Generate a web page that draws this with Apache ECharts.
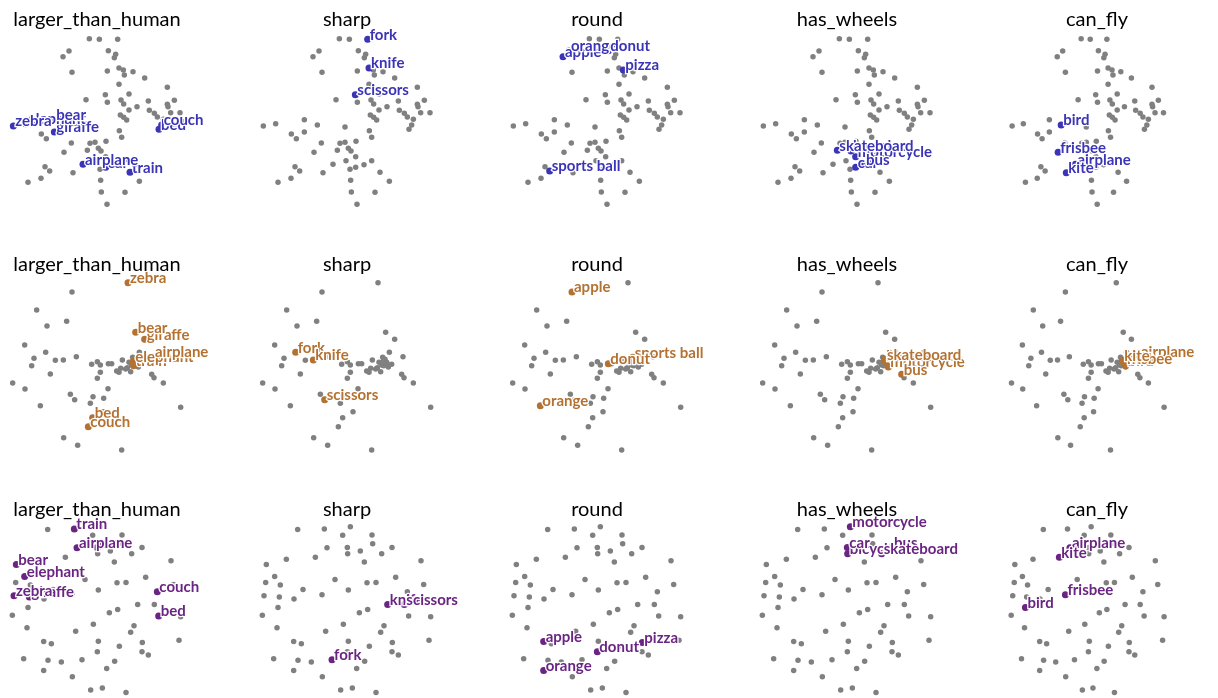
<!DOCTYPE html>
<html><head><meta charset="utf-8">
<script src="https://cdn.jsdelivr.net/npm/echarts@6/dist/echarts.min.js"></script>
<style>html,body{margin:0;padding:0;background:#fff}#c{width:1218px;height:698px}</style>
</head><body><div id="c"></div>
<script>
// panel titles (columns)
const panelTitles = ['larger_than_human', 'sharp', 'round', 'has_wheels', 'can_fly'];
// highlighted categories per column (drawing order of labels)
const largerThanHuman = ['car', 'train', 'giraffe', 'elephant', 'bear', 'zebra', 'airplane', 'bed', 'couch'];
const sharp = ['fork', 'knife', 'scissors'];
const round = ['sports ball', 'apple', 'orange', 'pizza', 'donut'];
const hasWheels = ['bicycle', 'car', 'motorcycle', 'bus', 'skateboard'];
const canFly = ['airplane', 'bird', 'frisbee', 'kite'];

// embedding 1 (top row): [x, y, name]
const row1 = [
[283,116,''],[313,118,''],[368,118,'fork'],
[222,153,'orange'],[204,170,'apple'],[340,152,'donut'],[362,163,''],[358,173,''],
[372,204,'knife'],[231,217,''],[337,213,''],[385,210,'pizza'],[388,225,''],[414,215,''],[449,234,''],
[372,253,''],[517,262,''],
[331,284,'scissors'],[402,282,''],[273,299,''],[337,307,''],[378,300,''],[386,312,''],[402,330,''],[426,320,''],[460,303,''],[463,331,''],[517,313,''],[519,320,''],[538,301,''],[478,340,''],[487,351,''],[527,338,''],[555,338,''],
[376,345,''],[386,352,''],[395,360,''],[505,358,''],[500,375,'couch'],[492,388,'bed'],
[55,378,'zebra'],[92,371,'elephant'],[178,359,'bear'],[217,375,'bird'],[139,402,''],[154,416,''],[178,396,'giraffe'],
[300,381,''],[373,392,''],[380,412,''],
[229,429,''],[285,430,''],[300,427,''],[333,424,''],[310,445,''],[318,453,'bicycle'],[332,470,'motorcycle'],
[207,457,'frisbee'],[277,451,'skateboard'],[303,482,''],[264,493,'airplane'],[357,494,'bus'],[380,482,''],[315,508,''],[332,502,'car'],
[150,500,''],[164,513,'sports ball'],[234,518,'kite'],[405,517,'train'],[138,535,''],[99,547,''],[317,541,''],[433,544,''],[319,576,''],[390,577,''],[336,613,'']
];
// embedding 2 (middle row)
const row2 = [
[399,113,'zebra'],[231,141,'apple'],[125,195,''],[215,229,''],[156,243,''],[422,262,'bear'],[449,283,'giraffe'],[89,300,''],
[152,322,'fork'],[205,345,'knife'],[244,335,''],[117,340,''],[181,346,''],[110,362,''],[166,387,''],[53,414,''],[90,432,''],
[290,358,''],[307,350,''],[316,360,''],[340,356,'donut'],[350,356,''],[382,345,''],[316,382,''],[307,400,''],
[413,337,'sports ball'],[420,343,'skateboard'],[415,349,'elephant'],[416,362,'train'],[430,366,'motorcycle'],[425,352,'car'],[418,346,'bicycle'],[419,348,'kite'],[426,356,'frisbee'],[430,362,'bird'],
[433,322,''],[402,352,''],[392,372,''],[377,370,''],[365,378,''],[372,382,''],[397,368,''],[407,380,''],[440,358,''],[410,360,''],
[474,335,'airplane'],[470,388,'bus'],[477,398,''],[505,414,''],[339,431,''],[226,448,''],[239,464,'scissors'],[294,455,''],[326,460,''],[286,475,''],[324,500,''],[293,518,'bed'],[280,545,'couch'],[136,482,'orange'],[557,487,''],[206,578,''],[248,601,''],[380,615,'']
];
// embedding 3 (bottom row)
const row3 = [
[158,120,''],[238,118,'train'],[316,111,'motorcycle'],[293,137,''],[381,136,''],[246,175,'airplane'],[307,174,'car'],[383,163,''],[346,185,''],[308,193,'bicycle'],[410,193,'skateboard'],[441,174,'bus'],
[211,204,'kite'],[124,210,''],[358,218,''],[528,214,''],[64,226,'bear'],[89,262,'elephant'],[62,280,''],[106,288,''],[270,271,''],[366,281,''],[393,280,''],[452,264,''],[536,286,''],
[174,301,''],[310,303,''],[487,308,'couch'],[57,320,'zebra'],[103,324,'giraffe'],[147,330,''],[231,317,'frisbee'],[99,356,'bird'],[52,379,''],[343,372,''],[368,362,''],
[428,347,'knife'],[478,347,'scissors'],[491,382,'bed'],[557,384,''],[96,417,''],[295,407,''],[417,411,''],[407,431,''],[242,428,''],
[146,459,'apple'],[169,466,''],[310,458,''],[373,473,''],[442,462,'pizza'],[552,455,''],[441,490,''],[460,500,''],[307,490,'donut'],
[86,511,''],[159,516,''],[199,521,''],[261,514,'fork'],[359,519,''],[335,541,''],[146,547,'orange'],[232,566,''],[287,606,''],[322,600,''],[393,613,'']
];

const rowColors = ['#3b34b6', '#b47232', '#6a2583'];
const grayColor = '#808080';

const groups = [largerThanHuman, sharp, round, hasWheels, canFly];
const rows = [row1, row2, row3];
const grid = [], xAxis = [], yAxis = [], series = [], title = [];
rows.forEach((pts, r) => {
  groups.forEach((g, c) => {
    const i = grid.length;
    grid.push({left: 250 * c, top: 245 * r, width: 240, height: 210});
    xAxis.push({gridIndex: i, type: 'value', min: 15, max: 735, show: false});
    yAxis.push({gridIndex: i, type: 'value', min: 0, max: 630, inverse: true, show: false});
    title.push({text: panelTitles[c], left: 97 + 250 * c, top: 245 * r + 10, textAlign: 'center', padding: 0,
      textStyle: {fontFamily: 'Lato', fontSize: 20, fontWeight: 'normal', color: '#000'}});
    const gray = pts.filter(p => !g.includes(p[2])).map(p => [p[0], p[1]]);
    const hi = g.map(n => pts.find(p => p[2] === n)).filter(Boolean).map(p => ({value: [p[0], p[1]], name: p[2]}));
    series.push({type: 'scatter', xAxisIndex: i, yAxisIndex: i, data: gray, symbolSize: 5.5, clip: false, silent: true,
      itemStyle: {color: grayColor, opacity: 1}});
    series.push({type: 'scatter', xAxisIndex: i, yAxisIndex: i, data: hi, symbolSize: 7, clip: false, silent: true,
      itemStyle: {color: rowColors[r], opacity: 1},
      label: {show: true, formatter: '{b}', position: [5.5, 6.5], align: 'left', verticalAlign: 'bottom',
        fontFamily: 'Lato', fontWeight: 'bold', fontSize: 15, color: rowColors[r], opacity: 1,
        textBorderColor: '#fff', textBorderWidth: 2.5}});
  });
});

const chart = echarts.init(document.getElementById('c'));
chart.setOption({animation: false, backgroundColor: '#fff', title, grid, xAxis, yAxis, series});
</script></body></html>
